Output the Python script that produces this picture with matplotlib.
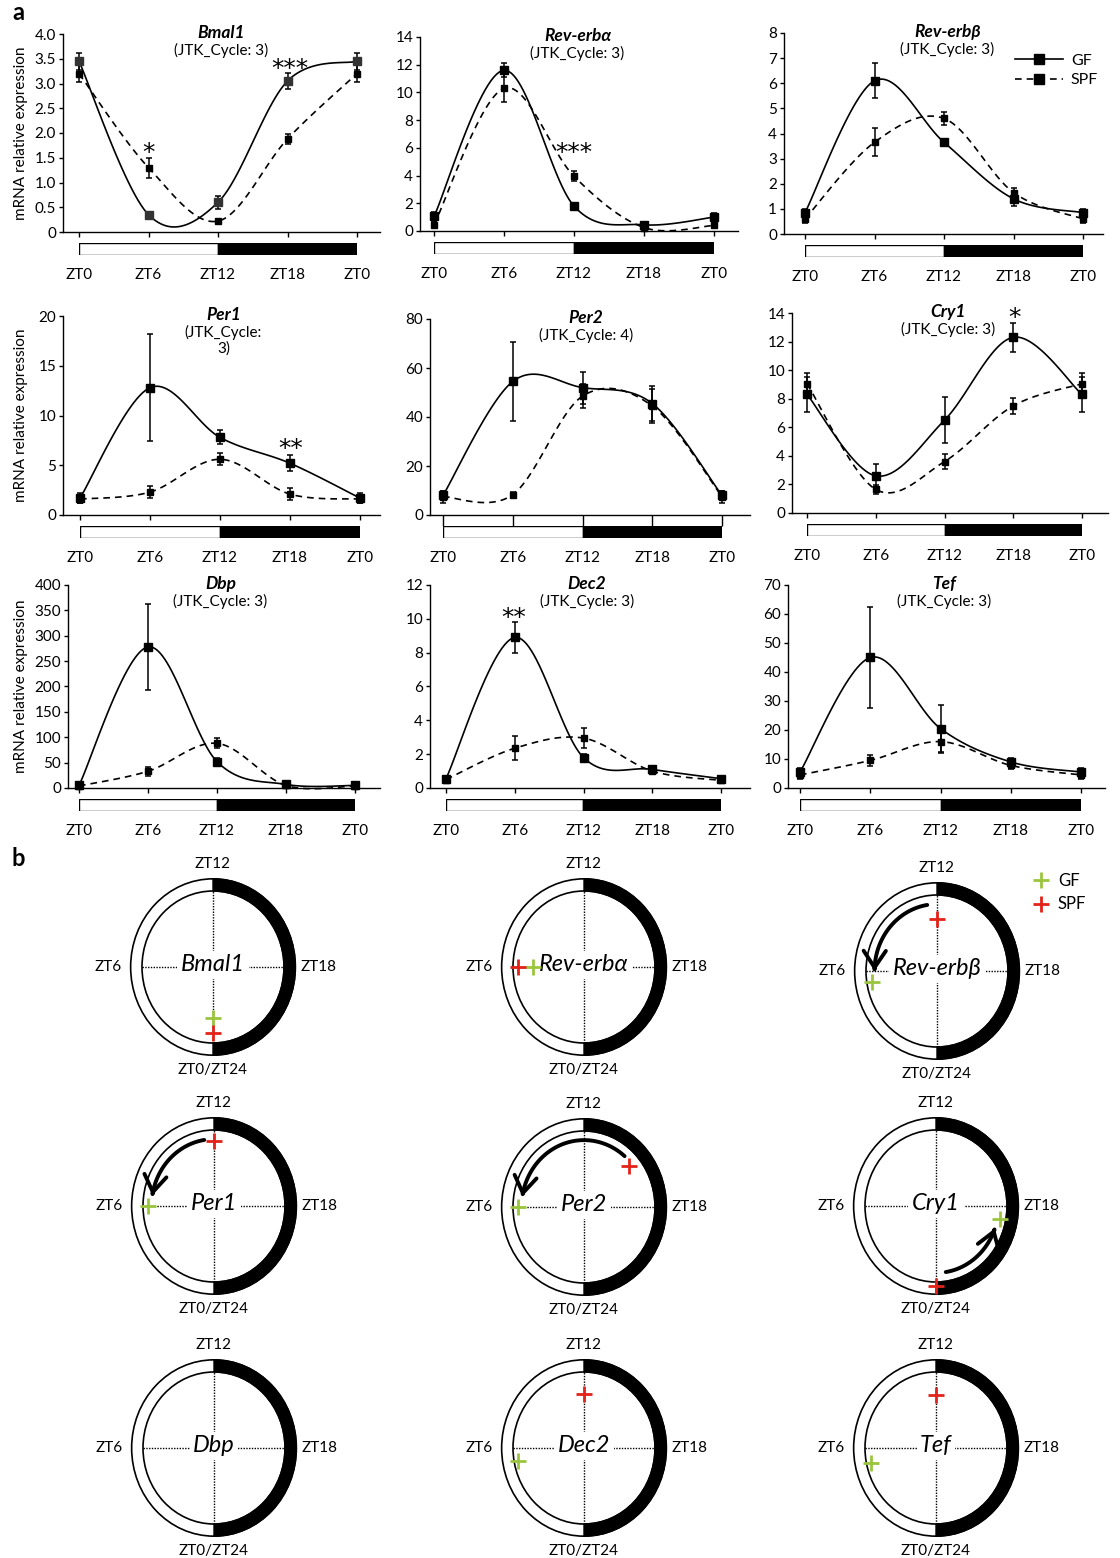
import numpy as np
import matplotlib
matplotlib.use('Agg')
import matplotlib.pyplot as plt
from matplotlib.patches import Wedge, Circle, FancyArrowPatch
from matplotlib.path import Path
from matplotlib.lines import Line2D

plt.rcParams['font.family'] = ['Lato', 'DejaVu Sans']

W, H = 1120, 1558

# ---- data ----
zt = [0, 6, 12, 18, 24]
zt_labels = ['ZT0', 'ZT6', 'ZT12', 'ZT18', 'ZT0']

genes = ['Bmal1', 'Rev-erbα', 'Rev-erbβ', 'Per1', 'Per2', 'Cry1', 'Dbp', 'Dec2', 'Tef']
jtk = ['(JTK_Cycle: 3)', '(JTK_Cycle: 3)', '(JTK_Cycle: 3)', '(JTK_Cycle:\n3)',
       '(JTK_Cycle: 4)', '(JTK_Cycle: 3)', '(JTK_Cycle: 3)', '(JTK_Cycle: 3)', '(JTK_Cycle: 3)']

# mean and SEM at ZT0, 6, 12, 18, 24
gf_mean = [[3.45, 0.35, 0.6, 3.05, 3.45],   # Bmal1
           [1.05, 11.6, 1.8, 0.45, 1.0],    # Rev-erb alpha
           [0.85, 6.1, 3.65, 1.4, 0.85],    # Rev-erb beta
           [1.7, 12.8, 7.8, 5.2, 1.7],      # Per1
           [8.0, 54.5, 52.0, 45.5, 8.0],    # Per2
           [8.3, 2.6, 6.5, 12.3, 8.3],      # Cry1
           [5, 278, 52, 7, 5],              # Dbp
           [0.55, 8.9, 1.8, 1.1, 0.55],     # Dec2
           [5.5, 45, 20.5, 9, 5.5]]         # Tef
gf_sem = [[0.17, 0.05, 0.13, 0.17, 0.17],
          [0.3, 0.5, 0.2, 0.15, 0.3],
          [0.15, 0.7, 0.1, 0.3, 0.15],
          [0.5, 5.4, 0.7, 0.8, 0.5],
          [2, 16, 6.5, 7, 2],
          [1.25, 0.8, 1.6, 1.0, 1.25],
          [3, 84, 8, 3, 3],
          [0.15, 0.9, 0.2, 0.2, 0.15],
          [1.5, 17.5, 8, 1.5, 1.5]]
spf_mean = [[3.2, 1.3, 0.22, 1.88, 3.2],
            [0.45, 10.3, 3.95, 0.25, 0.4],
            [0.6, 3.65, 4.6, 1.65, 0.6],
            [1.6, 2.3, 5.6, 2.1, 1.6],
            [7.5, 8.3, 48.5, 44.5, 7.5],
            [9.05, 1.65, 3.6, 7.5, 9.05],
            [4, 33, 88, 5, 4],
            [0.5, 2.35, 2.95, 1.0, 0.45],
            [4.5, 9.5, 16, 7.8, 4.5]]
spf_sem = [[0.17, 0.2, 0.05, 0.1, 0.17],
           [0.2, 1.0, 0.35, 0.1, 0.15],
           [0.15, 0.55, 0.25, 0.2, 0.15],
           [0.4, 0.6, 0.6, 0.6, 0.4],
           [2.5, 1, 5, 7, 2.5],
           [0.75, 0.3, 0.5, 0.55, 0.75],
           [2, 9, 10, 2, 2],
           [0.15, 0.7, 0.6, 0.15, 0.15],
           [1.5, 2, 4, 1.2, 1.5]]
y_max = [4.0, 14, 8, 20, 80, 14, 400, 12, 70]
y_step = [0.5, 2, 1, 5, 20, 2, 50, 2, 10]

# significance marks: (panel, ZT, y, text)
stars = [(0, 6, 1.70, '*'), (0, 18.2, 3.40, '***'), (1, 12.0, 6.06, '***'),
         (3, 18.1, 7.2, '**'), (5, 18.1, 14.05, '*'), (7, 5.9, 10.4, '**')]

# light / dark phases
light_dark = [(0, 12, 'white'), (12, 12, 'black')]

# phase (h) and relative radius of the JTK peaks, panel b
gf_phase = [0, 6, 5.4, 6, 6, 18.7, None, 5.3, 5.2]
gf_radius = [0.67, 0.72, 0.93, 0.93, 0.93, 0.92, None, 0.945, 0.94]
spf_phase = [0, 6, 12, 12, 15.3, 24, None, 12, 12]
spf_radius = [0.87, 0.93, 0.68, 0.86, 0.83, 1.05, None, 0.71, 0.70]
has_arrow = [False, False, True, True, True, True, False, False, False]

green = '#9BC53D'
red = '#E2231A'

# ---- layout (pixels) ----
# left spine, ZT0, ZT24, right end, top, bottom (y=0)
panel_px = [(63, 79, 357, 380, 34, 232),
            (420, 434, 714, 738, 37, 231),
            (784, 805, 1083, 1103, 33, 234),
            (63, 80, 360, 380, 316, 515),
            (430, 443, 722, 750, 319, 515),
            (792, 807, 1082, 1108, 313, 513),
            (68, 79, 355, 380, 585, 788),
            (430, 446, 721, 750, 585, 788),
            (788, 800, 1081, 1105, 585, 788)]
circle_px = [(213, 967), (584, 967), (937, 971),
             (214, 1206), (584, 1207), (936, 1206),
             (214, 1448), (584, 1448), (936, 1448)]
RX, RY = 71, 76   # inner circle semi-axes in px


def fig_rect(x, y, w, h):
    return [x / W, 1 - (y + h) / H, w / W, h / H]


def smooth(x, y, n=30):
    # Excel-style smoothed line (Catmull-Rom Bezier)
    p = np.column_stack([x, y]).astype(float)
    m = len(p)
    t = np.linspace(0, 1, n)[:, None]
    out = []
    for k in range(m - 1):
        prev = p[k - 1] if k > 0 else p[k]
        nxt = p[k + 2] if k + 2 < m else p[k + 1]
        c1 = p[k] + (p[k + 1] - prev) / 6
        c2 = p[k + 1] - (nxt - p[k]) / 6
        seg = ((1 - t) ** 3 * p[k] + 3 * (1 - t) ** 2 * t * c1
               + 3 * (1 - t) * t ** 2 * c2 + t ** 3 * p[k + 1])
        out.append(seg if k == 0 else seg[1:])
    out = np.vstack(out)
    return out[:, 0], out[:, 1]


fig = plt.figure(figsize=(W / 100, H / 100), dpi=100)
panel_axes = []

# ---------------- panel a ----------------
for i, g in enumerate(genes):
    L, z0, z24, R, T, B = panel_px[i]
    ppu = (z24 - z0) / 24.0
    ax = fig.add_axes(fig_rect(L, T, R - L, B - T))
    panel_axes.append(ax)
    ax.set_xlim((L - z0) / ppu, 24 + (R - z24) / ppu)
    ax.set_ylim(0, y_max[i])
    for s in ['top', 'right']:
        ax.spines[s].set_visible(False)
    for s in ['left', 'bottom']:
        ax.spines[s].set_linewidth(1.0)

    yt = np.arange(0, y_max[i] + y_step[i] / 2, y_step[i])
    ax.set_yticks(yt)
    if y_step[i] < 1:
        ax.set_yticklabels(['0'] + ['%.1f' % v for v in yt[1:]])
    else:
        ax.set_yticklabels(['%d' % v for v in yt])
    ax.set_xticks(zt)
    ax.set_xticklabels(zt_labels)
    xlen = 7.6 if i == 4 else 3.6
    ax.tick_params(axis='y', direction='out', length=3, width=1, pad=2, labelsize=11)
    ax.tick_params(axis='x', direction='out', length=xlen, width=1,
                   pad=22.5 - (xlen - 3.6), labelsize=11)

    gx, gy = smooth(zt, gf_mean[i])
    sx, sy = smooth(zt, spf_mean[i])
    ax.plot(gx, gy, '-', color='k', lw=1.2, clip_on=False)
    ax.plot(sx, sy, color='k', lw=1.2, ls=(0, (4, 3)), clip_on=False)
    ax.errorbar(zt, gf_mean[i], yerr=gf_sem[i], fmt='none', ecolor='k',
                elinewidth=1.1, capsize=2.5, capthick=1.1, clip_on=False)
    ax.errorbar(zt, spf_mean[i], yerr=spf_sem[i], fmt='none', ecolor='k',
                elinewidth=1.1, capsize=2.5, capthick=1.1, clip_on=False)
    ax.plot(zt, gf_mean[i], 's', color='#333333' if i == 0 else 'k', ms=5.5,
            clip_on=False, zorder=4)
    ax.plot(zt, spf_mean[i], 's', color='k', ms=5, clip_on=False, zorder=4)

    tx = ax.get_xaxis_transform()
    ax.text(12.3, 1 + 1.0 / (B - T), g, transform=tx, ha='center', va='center',
            fontsize=12.5, fontweight='bold', style='italic')
    ax.text(12.3, 1 - 9.0 / (B - T), jtk[i], transform=tx, ha='center', va='top',
            fontsize=11, linespacing=1.1)

    if i % 3 == 0:
        ax.set_ylabel('mRNA relative expression', fontsize=11)
        ax.yaxis.set_label_coords((28 - L) / (R - L), 0.5)

    # light/dark bar
    bax = fig.add_axes(fig_rect(z0, B + 11, z24 - z0, 12))
    for left, width, col in light_dark:
        bax.barh(0, width, left=left, height=1, color=col, edgecolor='k', lw=1)
    bax.set_xlim(0, 24)
    bax.set_ylim(-0.5, 0.5)
    bax.axis('off')

for p, x, y, txt in stars:
    panel_axes[p].annotate(txt, (x, y), xytext=(0, -4), textcoords='offset points',
                           ha='center', va='center', fontsize=18,
                           family='DejaVu Sans', annotation_clip=False)

# legend for panel a
h_gf = Line2D([], [], color='k', lw=1.2, marker='s', ms=6.5)
h_spf = Line2D([], [], color='k', lw=1.2, ls=(0, (4, 3)), marker='s', ms=6.5)
panel_axes[2].legend([h_gf, h_spf], ['GF', 'SPF'], loc='upper right',
                     bbox_to_anchor=(1.03, 0.97), frameon=False, fontsize=11.5,
                     handlelength=3.0, handletextpad=0.5, labelspacing=0.35)

# ---------------- panel b ----------------
for i, g in enumerate(genes):
    cx, cy = circle_px[i]
    ax = fig.add_axes(fig_rect(cx - 150, cy - 125, 300, 250))
    ax.set_xlim(-150.0 / RX, 150.0 / RX)
    ax.set_ylim(-125.0 / RY, 125.0 / RY)
    ax.axis('off')
    ax.add_patch(Wedge((0, 0), 1.16, -90, 90, width=0.16, color='k'))
    ax.add_patch(Circle((0, 0), 1.16, fill=False, lw=1.2, ec='k'))
    ax.add_patch(Circle((0, 0), 1.0, fill=False, lw=1.2, ec='k'))
    ax.plot([0, 0], [-1, 1], color='k', lw=1, ls=(0, (1, 1)))
    ax.plot([-1, 1], [0, 0], color='k', lw=1, ls=(0, (1, 1)))
    ax.text(0, 0.03, g, ha='center', va='center', fontsize=17, style='italic',
            bbox=dict(boxstyle='square,pad=0.15', fc='white', ec='none'))
    ax.text(0, 103.0 / RY, 'ZT12', ha='center', va='center', fontsize=11)
    ax.text(0, -103.0 / RY, 'ZT0/ZT24', ha='center', va='center', fontsize=11)
    ax.text(-105.0 / RX, 0, 'ZT6', ha='center', va='center', fontsize=11)
    ax.text(106.0 / RX, 0, 'ZT18', ha='center', va='center', fontsize=11)

    if has_arrow[i]:
        d = 1 if gf_phase[i] > spf_phase[i] else -1
        ph = np.linspace(spf_phase[i] + 0.6 * d, gf_phase[i] - 0.6 * d, 60)
        th = ph / 24.0 * 2 * np.pi
        verts = np.column_stack([-np.sin(th) * 0.88, -np.cos(th) * 0.88])
        arr = FancyArrowPatch(path=Path(verts),
                              arrowstyle='->,head_length=0.6,head_width=0.4',
                              mutation_scale=20, lw=2.8, color='k')
        ax.add_patch(arr)

    if gf_phase[i] is not None:
        t = gf_phase[i] / 24.0 * 2 * np.pi
        ax.plot(-np.sin(t) * gf_radius[i], -np.cos(t) * gf_radius[i], '+',
                color=green, ms=11, mew=2, zorder=5)
        t = spf_phase[i] / 24.0 * 2 * np.pi
        ax.plot(-np.sin(t) * spf_radius[i], -np.cos(t) * spf_radius[i], '+',
                color=red, ms=11, mew=2, zorder=5)

    if i == 2:
        hg = Line2D([], [], ls='none', marker='+', color=green, ms=11, mew=2)
        hs = Line2D([], [], ls='none', marker='+', color=red, ms=11, mew=2)
        ax.legend([hg, hs], ['GF', 'SPF'], loc='upper left',
                  bbox_to_anchor=(1033 / W, 1 - 873 / H),
                  bbox_transform=fig.transFigure, frameon=False, fontsize=12,
                  handlelength=1.0, handletextpad=0.5, labelspacing=0.45,
                  borderaxespad=0, borderpad=0)

fig.text(18 / W, 1 - 12 / H, 'a', fontsize=17, fontweight='bold', ha='center', va='center')
fig.text(18 / W, 1 - 858 / H, 'b', fontsize=17, fontweight='bold', ha='center', va='center')

fig.savefig('out.png', dpi=100)
